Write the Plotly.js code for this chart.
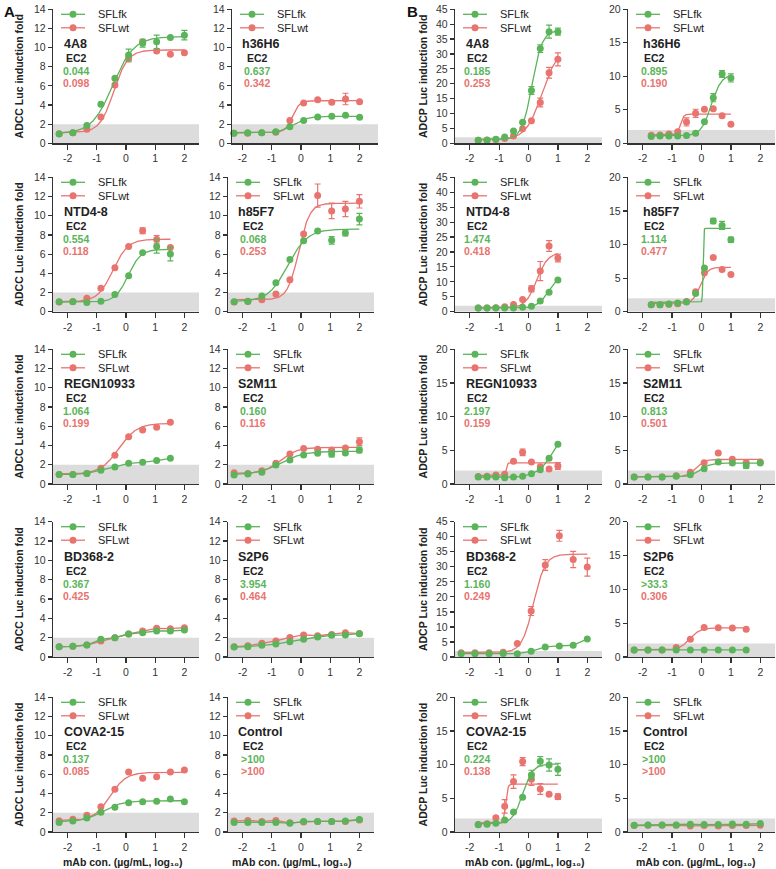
<!DOCTYPE html>
<html><head><meta charset="utf-8">
<script src="https://cdn.plot.ly/plotly-3.0.1.min.js"></script>
<style>html,body{margin:0;padding:0;background:#fff}</style>
</head><body><div id="chart" style="width:776px;height:869px"></div>
<script>
// ---------------- DATA ----------------
const antibodies = ['4A8','h36H6','NTD4-8','h85F7','REGN10933','S2M11','BD368-2','S2P6','COVA2-15','Control'];
const seriesNames = ['SFLfk','SFLwt'];
// mAb concentration, log10 µg/mL
const xThreeFold = [-2.29,-1.82,-1.34,-0.86,-0.38,0.09,0.57,1.05,1.52,2.00];
const xTwoFold   = [-1.71,-1.41,-1.11,-0.81,-0.51,-0.20,0.10,0.40,0.70,1.00];
const adccDilution = ['3','3','3','3','3','3','3','3','3','3'];
const adcpDilution = ['2','2','2','2','2','3','3','3','2','3'];
const xTickVals = [-2,-1,0,1,2];
const adccYMax = [14,14,14,14,14,14,14,14,14,14];
const adcpYMax = [45,20,45,20,20,20,45,20,20,20];

const adccEc2Fk = ['0.044','0.637','0.554','0.068','1.064','0.160','0.367','3.954','0.137','>100'];
const adccEc2Wt = ['0.098','0.342','0.118','0.253','0.199','0.116','0.425','0.464','0.085','>100'];
const adcpEc2Fk = ['0.185','0.895','1.474','1.114','2.197','0.813','1.160','>33.3','0.224','>100'];
const adcpEc2Wt = ['0.253','0.190','0.418','0.477','0.159','0.501','0.249','0.306','0.138','>100'];

// ADCC Luc induction fold
const adccFk = [
  [0.98,1.10,1.85,4.08,6.80,9.23,10.45,10.60,11.05,11.30],
  [1.05,1.10,1.10,1.20,1.74,2.37,2.75,2.82,2.93,2.72],
  [1.04,1.04,0.97,1.08,1.80,3.75,6.15,6.80,6.00],
  [1.04,1.10,1.63,3.02,5.45,7.40,8.40,7.43,8.20,9.65],
  [1.00,1.00,1.10,1.42,1.77,2.15,2.25,2.43,2.67],
  [0.94,1.04,1.21,1.98,2.50,3.01,3.19,3.12,3.22,3.53],
  [1.07,1.10,1.24,1.83,2.00,2.38,2.52,2.69,2.69,2.79],
  [1.03,1.07,1.21,1.34,1.59,1.83,2.07,2.24,2.28,2.41],
  [1.00,1.14,1.46,2.04,2.56,3.05,3.15,3.19,3.43,3.15],
  [1.00,1.00,1.00,1.00,0.90,1.10,1.10,1.10,1.15,1.30]
];
const adccWt = [
  [1.00,1.10,1.46,2.75,6.10,8.90,10.60,9.65,9.30,9.45],
  [1.05,1.05,1.10,1.15,2.37,4.20,4.56,4.28,4.63,4.35],
  [1.00,1.05,1.39,2.43,4.58,6.80,8.44,7.53,6.70],
  [1.00,1.05,1.25,1.84,3.33,8.10,12.10,10.50,10.70,11.50],
  [1.00,1.00,1.10,1.63,3.00,4.92,5.61,5.89,6.41],
  [1.18,1.10,1.39,2.15,3.12,3.70,3.60,3.53,3.74,4.40],
  [1.05,1.10,1.24,1.66,2.00,2.38,2.69,2.97,2.93,3.03],
  [1.05,1.17,1.41,1.66,2.03,2.28,2.20,2.34,2.52,2.42],
  [1.18,1.32,1.73,2.63,4.44,6.24,5.58,5.75,6.24,6.44],
  [1.14,1.20,1.10,1.20,0.95,1.05,1.10,1.10,1.10,1.25]
];
const adccFkErr = [
  [0,0,0,0,0,0.6,0.4,0.7,0,0.5],
  [0,0,0,0,0,0,0,0,0,0],
  [0,0,0,0,0,0,0,0.7,0.7],
  [0,0,0,0,0,0,0,0.4,0.3,0.6],
  [0,0,0,0,0,0,0,0,0],
  [0,0,0,0,0,0,0,0.3,0,0.3],
  [0,0,0,0,0,0,0,0,0,0],
  [0,0,0,0,0,0,0,0,0,0],
  [0,0,0,0,0,0,0,0,0,0],
  [0,0,0,0,0,0,0,0,0,0]
];
const adccWtErr = [
  [0,0,0,0,0,0.4,0,0,0,0],
  [0,0,0,0,0,0,0,0,0.6,0],
  [0,0,0,0,0,0,0.3,0.4,0],
  [0,0,0,0,0,0,1.2,0.8,0.8,0.7],
  [0,0,0,0,0,0,0,0,0],
  [0,0,0,0,0,0,0,0,0,0.4],
  [0,0,0,0,0,0,0,0,0,0],
  [0,0,0,0,0,0,0,0,0,0],
  [0,0,0,0,0,0,0,0,0,0],
  [0,0,0,0,0,0,0,0,0,0]
];
// 4-parameter logistic fits: [bottom, top, logEC50, hill]; null = points joined by lines
const adccFkFit = [[1.0,11.15,-0.45,1.2],[1.1,2.82,-0.25,1.8],[1.0,6.5,0.07,2.0],[1.05,8.6,-0.45,1.3],null,
                   [0.95,3.4,-0.7,1.1],null,null,[1.05,3.25,-0.8,1.3],null];
const adccWtFit = [[1.1,9.75,-0.42,1.8],[1.1,4.45,-0.3,3.5],[1.05,7.55,-0.45,1.7],[1.25,11.3,-0.08,2.3],[1.05,6.3,-0.25,1.4],
                   [1.1,3.8,-0.7,1.5],null,null,[1.2,6.2,-0.55,1.6],null];

// ADCP Luc induction fold
const adcpFk = [
  [1.00,1.00,1.34,2.10,4.10,7.05,17.70,31.80,37.50,37.50],
  [1.00,1.10,1.10,1.10,1.15,1.50,3.23,6.80,10.35,9.75],
  [1.20,1.20,1.20,1.20,1.20,1.50,1.80,3.55,6.55,10.60],
  [1.04,1.04,1.14,1.28,1.43,2.72,6.52,13.50,12.84,10.70],
  [1.04,1.04,1.04,0.94,1.04,1.14,1.53,2.13,3.81,5.89],
  [1.04,1.04,1.04,1.14,1.39,2.28,3.27,3.12,2.72,3.12],
  [1.10,1.10,1.10,1.20,1.10,1.90,3.35,3.70,3.90,6.00],
  [1.04,1.04,1.04,1.04,1.04,1.04,1.04,1.04,1.04],
  [1.09,1.14,1.29,1.78,2.97,5.15,8.47,10.50,9.95,9.31],
  [1.00,1.05,1.05,1.05,1.15,1.10,1.10,1.20,1.15,1.25]
];
const adcpWt = [
  [1.00,1.10,1.30,1.57,2.46,4.90,7.60,13.70,23.70,28.20],
  [1.20,1.25,1.40,1.74,3.18,4.48,5.07,5.17,4.13,2.84],
  [1.20,1.20,1.30,1.67,2.44,4.10,7.67,13.60,22.00,18.00],
  [1.04,1.04,1.10,1.20,1.50,2.96,5.78,8.05,6.27,5.53],
  [1.10,1.14,1.34,1.44,3.37,4.70,3.27,2.57,2.23,2.67],
  [1.04,1.04,1.04,1.24,1.73,3.17,4.60,3.66,3.20,3.27],
  [1.45,1.45,1.45,1.56,4.46,15.30,30.60,40.30,32.40,29.90],
  [1.05,1.05,1.05,1.39,2.63,4.37,4.32,4.27,4.12],
  [1.10,1.24,2.13,3.81,7.48,10.45,7.82,6.39,5.60,5.25],
  [0.95,1.00,1.00,1.00,0.90,0.95,0.90,0.95,0.95,1.00]
];
const adcpFkErr = [
  [0,0,0,0,0,0,1.3,1.3,2.2,1.2],
  [0,0,0,0,0,0,0,0.6,0.5,0.6],
  [0,0,0,0,0,0,0,0,0,0],
  [0,0,0,0,0,0,0,0.4,0.6,0.4],
  [0,0,0,0,0,0,0,0,0,0],
  [0,0,0,0,0,0,0,0,0.4,0],
  [0,0,0,0,0,0,0,0,0,0],
  [0,0,0,0,0,0,0,0,0],
  [0,0,0,0,0,0,0.7,0.7,0.9,0.9],
  [0,0,0,0,0,0,0,0,0,0]
];
const adcpWtErr = [
  [0,0,0,0,0,0,0,1.5,1.8,2.2],
  [0,0,0,0,0.6,0.6,0,0,0,0],
  [0,0,0,0,0,0,1.0,3.2,1.8,1.3],
  [0,0,0,0,0,0,0,0,0,0],
  [0,0,0,0,0,0.5,0,0,0,0.5],
  [0,0,0,0,0,0,0,0,0,0],
  [0,0,0,0,0,1.5,1.8,1.8,2.7,3.0],
  [0,0,0,0,0,0,0,0,0],
  [0,0,0,1.0,1.0,0.6,0.9,0.8,0,0.4],
  [0,0,0,0,0,0,0,0,0,0]
];
const adcpFkFit = [[1.2,38.0,0.12,2.5],[1.1,10.3,0.33,2.5],[1.2,13.0,0.7,2.2],[1.4,12.4,0.05,40],null,
                   [1.05,3.1,-0.05,2.5],null,null,[1.2,10.1,-0.2,2.5],null];
const adcpWtFit = [[1.2,32.0,0.45,1.6],[1.25,4.35,-0.72,8],[1.3,19.8,0.28,2.3],[1.2,6.6,-0.05,3.5],[1.25,3.15,-0.76,20],
                   [1.05,3.65,-0.2,3.0],[1.45,34.2,0.17,2.2],[1.05,4.3,-0.4,2.5],[1.35,7.1,-0.78,12],null];

// ---------------- STYLE / LAYOUT ----------------
const W = 776, H = 869;
const FONT = 'Arial, "Liberation Sans", Helvetica, sans-serif';
const GREEN = '#5BB45A', RED = '#E9736F', AXIS = '#333333', BAND = '#DCDCDC';
const colLeft = [53, 228, 455, 628], colRight = [199, 374, 602, 775];
const rowTop = [9.3, 177.3, 349.3, 521.7, 697.3], rowBot = [143.3, 311.7, 484, 657, 832];
const nameOff = [9, 8, 9, 13], valOff = [23, 25, 22, 26];
const xTitleCenter = [122.5, 291.5, 524.7, 695.5];

const px = v => v / W, py = v => 1 - v / H;
function logistic(p, x) { return p[0] + (p[1] - p[0]) / (1 + Math.pow(10, (p[2] - x) * p[3])); }

const traces = [], shapes = [], annotations = [];
const layout = {
  width: W, height: H, margin: {l:0, r:0, t:0, b:0},
  paper_bgcolor: '#fff', plot_bgcolor: 'rgba(0,0,0,0)',
  showlegend: false, font: {family: FONT, color: AXIS, size: 10.5}
};

for (let r = 0; r < 5; r++) {
  for (let c = 0; c < 4; c++) {
    const n = r * 4 + c + 1, sfx = n === 1 ? '' : String(n);
    const ab = r * 2 + (c % 2);
    const isADCC = c < 2;
    let left = colLeft[c], right = colRight[c], xr = [-2.5, 2.5];
    if (r === 0 && c === 1) { left = 232; right = 378; xr = [(232 - 301) / 29.3, (378 - 301) / 29.3]; }
    const top = rowTop[r], bot = rowBot[r];
    const ymax = isADCC ? adccYMax[ab] : adcpYMax[ab];
    const xs = (isADCC ? adccDilution[ab] : adcpDilution[ab]) === '3' ? xThreeFold : xTwoFold;

    layout['xaxis' + sfx] = {
      domain: [px(left), px(right)], anchor: 'y' + sfx, range: xr, tickvals: xTickVals,
      ticktext: xTickVals.map(v => v < 0 ? '-' + Math.abs(v) : String(v)),
      showline: true, linecolor: AXIS, linewidth: 1.2, ticks: 'outside', ticklen: 5, tickwidth: 1.2,
      tickcolor: AXIS, showgrid: false, zeroline: false, tickfont: {size: 10.5, color: AXIS, family: FONT}
    };
    layout['yaxis' + sfx] = {
      domain: [py(bot), py(top)], anchor: 'x' + sfx, range: [0, ymax], dtick: isADCC ? 2 : 5, tick0: 0,
      showline: true, linecolor: AXIS, linewidth: 1.2, ticks: 'outside', ticklen: 4, tickwidth: 1.2,
      tickcolor: AXIS, showgrid: false, zeroline: false, tickfont: {size: 10.5, color: AXIS, family: FONT}
    };
    if (c === 0 || c === 2) {
      layout['yaxis' + sfx].title = {
        text: '<b>' + (isADCC ? 'ADCC' : 'ADCP') + ' Luc induction fold</b>',
        font: {family: FONT, size: 10.5, color: '#222'}, standoff: c === 0 ? 8 : 6
      };
    }

    // grey background band (fold < 2)
    shapes.push({type: 'rect', xref: 'x' + sfx + ' domain', x0: 0, x1: 1, yref: 'y' + sfx, y0: 0, y1: 2,
                 fillcolor: BAND, line: {width: 0}, layer: 'below'});

    const groups = [
      {vals: isADCC ? adccWt[ab] : adcpWt[ab], err: isADCC ? adccWtErr[ab] : adcpWtErr[ab],
       fit: isADCC ? adccWtFit[ab] : adcpWtFit[ab], color: RED},
      {vals: isADCC ? adccFk[ab] : adcpFk[ab], err: isADCC ? adccFkErr[ab] : adcpFkErr[ab],
       fit: isADCC ? adccFkFit[ab] : adcpFkFit[ab], color: GREEN}
    ];
    for (const g of groups) {
      const xv = xs.slice(0, g.vals.length);
      if (g.fit) {
        const x0 = xv[0], x1 = xv[xv.length - 1], cx = [], cy = [];
        for (let i = 0; i <= 400; i++) { const x = x0 + (x1 - x0) * i / 400; cx.push(x); cy.push(logistic(g.fit, x)); }
        traces.push({type: 'scatter', mode: 'lines', x: cx, y: cy, xaxis: 'x' + sfx, yaxis: 'y' + sfx,
                     line: {color: g.color, width: 1.3}, hoverinfo: 'skip'});
      }
      traces.push({type: 'scatter', mode: g.fit ? 'markers' : 'lines+markers', x: xv, y: g.vals,
                   xaxis: 'x' + sfx, yaxis: 'y' + sfx, cliponaxis: false,
                   line: {color: g.color, width: 1.3}, marker: {color: g.color, size: 7},
                   error_y: {type: 'data', array: g.err.map(e => e > 0 ? e : NaN), visible: true,
                             color: g.color, thickness: 1.2, width: 3}});
    }

    // manual legend
    const legCols = [GREEN, RED];
    [5, 18.5].forEach((dy, i) => {
      const yy = top + dy;
      shapes.push({type: 'line', xref: 'paper', yref: 'paper', x0: px(left + 8), x1: px(left + 32),
                   y0: py(yy), y1: py(yy), line: {color: legCols[i], width: 1.3}});
      shapes.push({type: 'circle', xref: 'paper', yref: 'paper', x0: px(left + 20 - 3.5), x1: px(left + 20 + 3.5),
                   y0: py(yy + 3.5), y1: py(yy - 3.5), fillcolor: legCols[i], line: {width: 0}});
      annotations.push({xref: 'paper', yref: 'paper', x: px(left + 43), y: py(yy), xanchor: 'left', yanchor: 'middle',
                        text: seriesNames[i], showarrow: false, font: {family: FONT, size: 11, color: '#222'}});
    });

    // antibody name, EC2 values
    const nx = left + nameOff[c], vx = left + valOff[c];
    annotations.push({xref: 'paper', yref: 'paper', x: px(nx), y: py(top + 35), xanchor: 'left', yanchor: 'middle',
                      text: '<b>' + antibodies[ab] + '</b>', showarrow: false, font: {family: FONT, size: 12.5, color: '#222'}});
    annotations.push({xref: 'paper', yref: 'paper', x: px(vx), y: py(top + 49), xanchor: 'center', yanchor: 'middle',
                      text: '<b>EC2</b>', showarrow: false, font: {family: FONT, size: 10.5, color: '#222'}});
    annotations.push({xref: 'paper', yref: 'paper', x: px(vx), y: py(top + 62), xanchor: 'center', yanchor: 'middle',
                      text: '<b>' + (isADCC ? adccEc2Fk[ab] : adcpEc2Fk[ab]) + '</b>', showarrow: false,
                      font: {family: FONT, size: 10.5, color: GREEN}});
    annotations.push({xref: 'paper', yref: 'paper', x: px(vx), y: py(top + 74), xanchor: 'center', yanchor: 'middle',
                      text: '<b>' + (isADCC ? adccEc2Wt[ab] : adcpEc2Wt[ab]) + '</b>', showarrow: false,
                      font: {family: FONT, size: 10.5, color: RED}});

    // x-axis titles on bottom row
    if (r === 4) {
      annotations.push({xref: 'paper', yref: 'paper', x: px(xTitleCenter[c]), y: py(862),
                        xanchor: 'center', yanchor: 'middle', showarrow: false,
                        text: '<b>mAb con. (µg/mL, log\u2081\u2080)</b>',
                        font: {family: FONT, size: 10.5, color: '#222'}});
    }
  }
}
annotations.push({xref: 'paper', yref: 'paper', x: px(2), y: py(1), xanchor: 'left', yanchor: 'top', showarrow: false,
                  text: '<b>A</b>', font: {family: FONT, size: 15, color: '#111'}});
annotations.push({xref: 'paper', yref: 'paper', x: px(405), y: py(1), xanchor: 'left', yanchor: 'top', showarrow: false,
                  text: '<b>B</b>', font: {family: FONT, size: 15, color: '#111'}});

layout.shapes = shapes;
layout.annotations = annotations;
Plotly.newPlot('chart', traces, layout, {displayModeBar: false, staticPlot: true});
</script>
</body></html>
